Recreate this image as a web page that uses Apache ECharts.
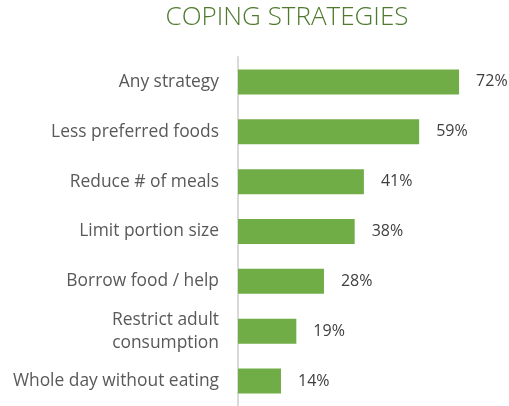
<!DOCTYPE html>
<html><head><meta charset="utf-8">
<script src="https://cdn.jsdelivr.net/npm/echarts@6/dist/echarts.min.js"></script>
<style>html,body{margin:0;padding:0;background:#fff}#c{width:509px;height:406px}</style>
</head><body><div id="c"></div>
<script>
const title = 'COPING STRATEGIES';
const categories = ['Any strategy','Less preferred foods','Reduce # of meals','Limit portion size','Borrow food / help','Restrict adult\nconsumption','Whole day without eating'];
const values = [72,59,41,38,28,19,14];

const chart = echarts.init(document.getElementById('c'));
chart.setOption({
  animation:false,
  title:{text:title,left:282,top:0,textAlign:'center',textStyle:{fontFamily:'Open Sans',fontWeight:300,fontSize:26,color:'#4F7A2E'}},
  grid:{left:238,top:57,width:261,height:350,containLabel:false},
  xAxis:{type:'value',min:0,max:85,show:false},
  yAxis:{type:'category',data:categories,inverse:true,
    axisLine:{show:true,lineStyle:{color:'#D9D9D9',width:2}},
    axisTick:{show:false},
    axisLabel:{margin:19,color:'#595959',fontFamily:'Open Sans',fontSize:17.4,lineHeight:23,align:'right'}},
  series:[{type:'bar',data:values,barWidth:25,itemStyle:{color:'#70AD47'},
    label:{show:true,position:'right',distance:17,formatter:'{c}%',color:'#404040',fontFamily:'Open Sans',fontSize:16}}]
});
</script></body></html>
